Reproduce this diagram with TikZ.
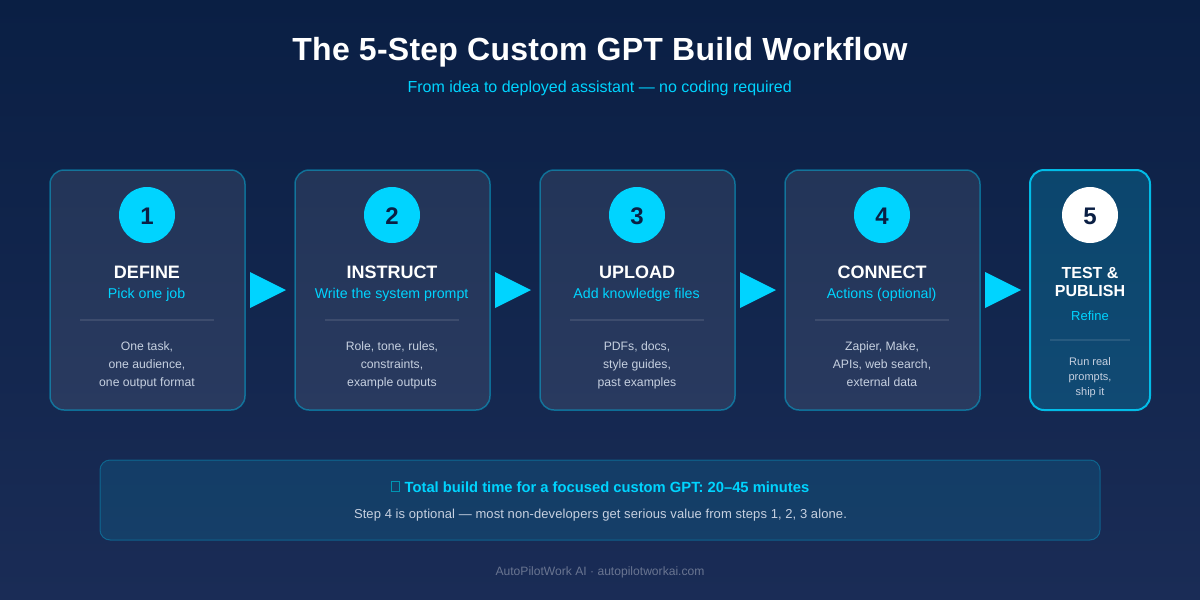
\documentclass[tikz,border=0pt]{standalone}
\usepackage{fontspec}
\setmainfont{Liberation Sans}
\definecolor{bgtop}{HTML}{0A1F44}
\definecolor{bgbot}{HTML}{1A2C56}
\definecolor{cyanx}{HTML}{00D4FF}
\definecolor{navy}{HTML}{0A1F44}
\definecolor{bodyc}{HTML}{C6D0E0}
\tikzset{
  lbl/.style={anchor=base,inner sep=0pt,outer sep=0pt,align=center},
  cardbox/.style={draw=cyanx,draw opacity=.4,line width=1.5pt,fill=white,fill opacity=.085,rounded corners=14pt},
  lastbox/.style={draw=cyanx,draw opacity=.85,line width=2pt,fill=cyanx,fill opacity=.2,rounded corners=14pt},
  sepline/.style={draw=white,draw opacity=.1,line width=1.5pt},
  badge/.style={circle,fill=cyanx,minimum size=56pt,inner sep=0pt},
  arrowtri/.style={fill=cyanx},
}
\newcommand{\fs}[1]{\fontsize{#1}{#1}\selectfont}
\newcommand{\stepcard}[8]{%
  \path[cardbox] (#2,170) rectangle (#2+195,410);
  \node[badge] (c#1) at (#2+97,215) {};
  \node[lbl,text=navy] (n#1) at (#2+97,224) {\fs{24}\bfseries #1};
  \node[lbl,text=white] (t#1) at (#2+97,278) {\fs{18}\bfseries #4};
  \node[lbl,text=cyanx] (s#1) at (#2+96.6,298) {\fs{14.2}#5};
  \draw[sepline] (#2+30,320) -- (#2+164,320);
  \node[lbl,text=bodyc] (a#1) at (#2+97,350) {\fs{12.2}#6};
  \node[lbl,text=bodyc] (b#1) at (#2+97,368) {\fs{12.2}#7};
  \node[lbl,text=bodyc] (d#1) at (#2+97,386) {\fs{12.2}#8};
}
\begin{document}
\begin{tikzpicture}[x=1pt,y=-1pt]
\useasboundingbox (0,0) rectangle (1200,600);
\shade[top color=bgtop,bottom color=bgbot] (0,0) rectangle (1200,600);
\node[lbl,text=white] (title) at (600,60) {\addfontfeature{LetterSpace=0.8}\fs{32}\bfseries The 5-Step Custom GPT Build Workflow};
\node[lbl,text=cyanx] (subtitle) at (599.7,92) {\fs{16}From idea to deployed assistant — no coding required};
\stepcard{1}{50}{}{DEFINE}{Pick one job}{One task,}{one audience,}{one output format}
\stepcard{2}{295}{}{INSTRUCT}{Write the system prompt}{Role, tone, rules,}{constraints,}{example outputs}
\stepcard{3}{540}{}{UPLOAD}{Add knowledge files}{PDFs, docs,}{style guides,}{past examples}
\stepcard{4}{785}{}{CONNECT}{Actions (optional)}{Zapier, Make,}{APIs, web search,}{external data}
\foreach \ax in {250,495,740,985}{
  \fill[arrowtri] (\ax,272) -- (\ax+36,290) -- (\ax,308) -- cycle;
}
\path[lastbox] (1030,170) rectangle (1150,410);
\node[badge,fill=white] (c5) at (1090,215) {};
\node[lbl,text=navy] (n5) at (1090,224) {\fs{24}\bfseries 5};
\node[lbl,text=white] (t5a) at (1090,278) {\fs{16}\bfseries TEST \&};
\node[lbl,text=white] (t5b) at (1090,296) {\fs{16}\bfseries PUBLISH};
\node[lbl,text=cyanx] (s5) at (1090,320) {\fs{13}Refine};
\draw[sepline] (1050,340) -- (1130,340);
\node[lbl,text=bodyc] (a5) at (1090,365) {\fs{11}Run real};
\node[lbl,text=bodyc] (b5) at (1090,380) {\fs{11}prompts,};
\node[lbl,text=bodyc] (d5) at (1090,395) {\fs{11}ship it};
\path[draw=cyanx,draw opacity=.3,line width=1pt,fill=cyanx,fill opacity=.12,rounded corners=10pt] (100,460) rectangle (1100,540);
\draw[cyanx!70!black,line width=.8pt] (391.5,481.5) rectangle (399.5,491.5);
\node[lbl,text=cyanx] (note) at (607,492) {\fs{14.75}\bfseries Total build time for a focused custom GPT: 20–45 minutes};
\node[lbl,text=bodyc] (notesub) at (600.5,518) {\addfontfeature{LetterSpace=0.75}\fs{13}Step 4 is optional — most non-developers get serious value from steps 1, 2, 3 alone.};
\node[lbl,text=white,text opacity=.35] (foot) at (600,575) {\fs{12.1}AutoPilotWork AI · autopilotworkai.com};
\end{tikzpicture}
\end{document}
